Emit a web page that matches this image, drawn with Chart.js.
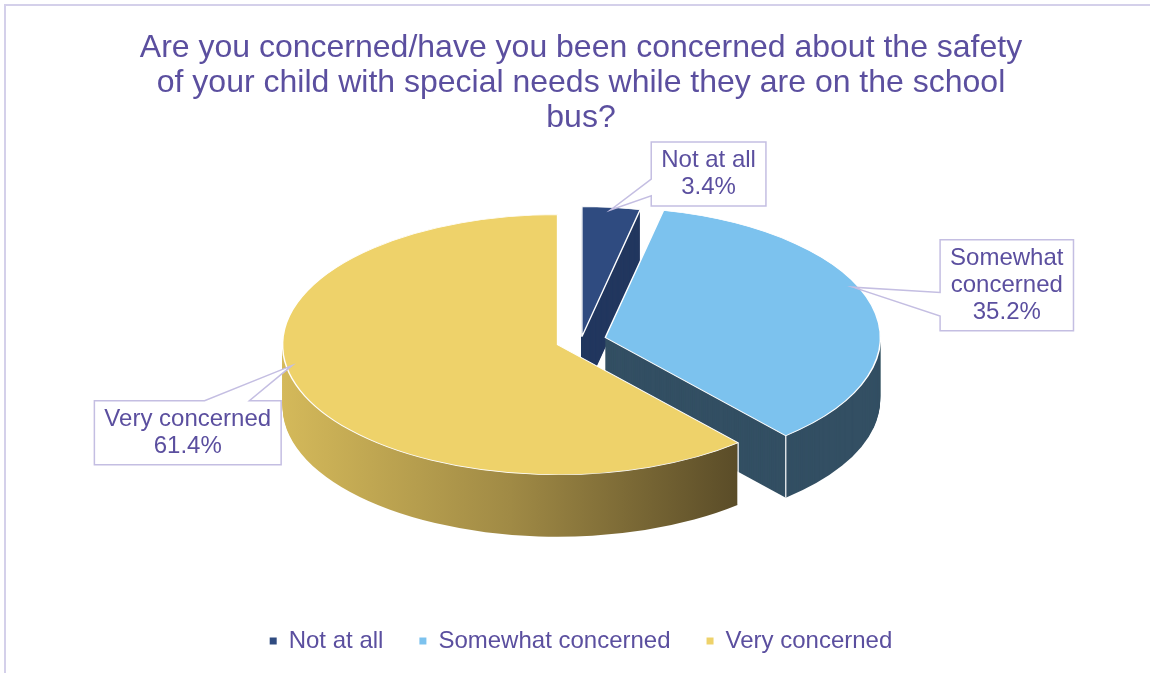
<!DOCTYPE html>
<html>
<head>
    <meta charset="UTF-8">
    <title>School bus safety</title>
    <script src="https://cdn.jsdelivr.net/npm/chart.js@4.4.0/dist/chart.umd.min.js"></script>
    <style>
        body { margin: 0; background: #fff; }
        #wrap { position: relative; width: 1150px; height: 673px; }
    </style>
</head>
<body>
    <div id="wrap"><canvas id="pie-chart"></canvas></div>
<script>
    // data
    var categories = ['Not at all', 'Somewhat concerned', 'Very concerned'];
    var shares = [3.4, 35.2, 61.4];
    var shareLabels = ['3.4%', '35.2%', '61.4%'];
    var calloutLines = [['Not at all'], ['Somewhat', 'concerned'], ['Very concerned']];

    var TEXT = '#5b4f9f';
    var FONT = '"Liberation Sans", Arial, sans-serif';
    var topColors = ['#2f4b80', '#7cc2ee', '#eed26a'];
    var sideColors = ['#22375f', '#334f63', null];
    var explode = [8, 25, 25];
    var TILT = 0.473;
    var DEPTH = 62;
    // where along each slice's rim the callout points, and where its box sits
    var anchorAt = [0.5, 0.43, 0.55];
    var calloutShift = [[98, -36], [154, -2], [-104, 67]];

    function sliceCenter(a, i) {
        var mid = (a.startAngle + a.endAngle) / 2;
        return { x: a.x + Math.cos(mid) * explode[i], y: a.y + Math.sin(mid) * explode[i] };
    }

    var pie3d = {
        id: 'pie3d',
        beforeDraw: function (chart) {
            var ctx = chart.ctx;
            ctx.save();
            ctx.strokeStyle = '#d4d0ea';
            ctx.lineWidth = 2;
            ctx.strokeRect(5, 5, 1300, 800);
            ctx.restore();
        },
        beforeDatasetsDraw: function (chart) {
            var ctx = chart.ctx;
            var arcs = chart.getDatasetMeta(0).data;
            var cy = arcs[0].y;
            var topY = cy - DEPTH / 2;
            function toScreen(u, v) { return { x: u, y: topY + (v - cy) * TILT }; }
            function tilt() {
                ctx.translate(0, topY);
                ctx.scale(1, TILT);
                ctx.translate(0, -cy);
            }

            // side walls, stacked from the bottom up
            ctx.save();
            tilt();
            var fills = arcs.map(function (a, i) {
                if (sideColors[i]) return sideColors[i];
                var c = sliceCenter(a, i);
                var g = ctx.createLinearGradient(c.x - a.outerRadius, 0, c.x + a.outerRadius * Math.cos(a.startAngle), 0);
                g.addColorStop(0, '#d4b95a');
                g.addColorStop(0.5, '#a08a45');
                g.addColorStop(1, '#5a4c28');
                return g;
            });
            for (var d = DEPTH; d >= 1; d--) {
                arcs.forEach(function (a, i) {
                    var c = sliceCenter(a, i);
                    var dy = d / TILT;
                    ctx.beginPath();
                    ctx.moveTo(c.x, c.y + dy);
                    ctx.arc(c.x, c.y + dy, a.outerRadius, a.startAngle, a.endAngle);
                    ctx.closePath();
                    ctx.fillStyle = fills[i];
                    ctx.fill();
                });
            }
            ctx.restore();

            // white edges where a wall corner faces us
            ctx.save();
            ctx.strokeStyle = '#ffffff';
            ctx.lineWidth = 1.2;
            arcs.forEach(function (a, i) {
                var c = sliceCenter(a, i);
                [a.startAngle, a.endAngle].forEach(function (ang) {
                    if (Math.sin(ang) > 0.05) {
                        var p = toScreen(c.x + a.outerRadius * Math.cos(ang), c.y + a.outerRadius * Math.sin(ang));
                        ctx.beginPath();
                        ctx.moveTo(p.x, p.y);
                        ctx.lineTo(p.x, p.y + DEPTH);
                        ctx.stroke();
                    }
                });
            });
            ctx.restore();

            // top faces, drawn by the arc elements themselves
            ctx.save();
            tilt();
            arcs.forEach(function (a, i) {
                var c = sliceCenter(a, i);
                ctx.save();
                ctx.translate(c.x - a.x, c.y - a.y);
                a.draw(ctx);
                ctx.restore();
            });
            ctx.restore();
            return false;
        },
        afterDraw: function (chart) {
            var ctx = chart.ctx;
            var arcs = chart.getDatasetMeta(0).data;
            var cy = arcs[0].y;
            var topY = cy - DEPTH / 2;
            ctx.save();
            ctx.font = '24px ' + FONT;
            arcs.forEach(function (a, i) {
                var c = sliceCenter(a, i);
                var ang = a.startAngle + (a.endAngle - a.startAngle) * anchorAt[i];
                var r = a.outerRadius * 0.98;
                var ax = c.x + Math.cos(ang) * r;
                var ay = topY + (c.y + Math.sin(ang) * r - cy) * TILT;
                var lines = calloutLines[i].concat([shareLabels[i]]);
                var w = 0;
                lines.forEach(function (t) { w = Math.max(w, ctx.measureText(t).width); });
                w += 20;
                var h = lines.length * 27 + 10;
                var bx = ax + calloutShift[i][0] - w / 2;
                var by = ay + calloutShift[i][1] - h / 2;
                var x1 = bx + w, y1 = by + h;

                ctx.beginPath();
                if (ax < bx) {
                    ctx.moveTo(bx, by);
                    ctx.lineTo(x1, by);
                    ctx.lineTo(x1, y1);
                    ctx.lineTo(bx, y1);
                    ctx.lineTo(bx, by + h * 0.84);
                    ctx.lineTo(ax, ay);
                    ctx.lineTo(bx, by + h * 0.58);
                } else {
                    ctx.moveTo(bx, by);
                    ctx.lineTo(bx + w * 0.59, by);
                    ctx.lineTo(ax, ay);
                    ctx.lineTo(bx + w * 0.83, by);
                    ctx.lineTo(x1, by);
                    ctx.lineTo(x1, y1);
                    ctx.lineTo(bx, y1);
                }
                ctx.closePath();
                ctx.fillStyle = '#ffffff';
                ctx.fill();
                ctx.strokeStyle = '#c4bee2';
                ctx.lineWidth = 1.5;
                ctx.stroke();

                ctx.fillStyle = TEXT;
                ctx.textAlign = 'center';
                ctx.textBaseline = 'middle';
                lines.forEach(function (t, k) {
                    ctx.fillText(t, bx + w / 2, by + 5 + 13.5 + k * 27);
                });
            });
            ctx.restore();
        }
    };

    var chart = new Chart(document.getElementById('pie-chart'), {
        type: 'pie',
        data: {
            labels: categories,
            datasets: [{
                data: shares,
                backgroundColor: topColors,
                borderColor: '#ffffff',
                borderWidth: 1.5,
                radius: 275
            }]
        },
        options: {
            responsive: true,
            maintainAspectRatio: false,
            animation: false,
            events: [],
            layout: { padding: { left: 12, bottom: 10 } },
            plugins: {
                title: {
                    display: true,
                    text: ['Are you concerned/have you been concerned about the safety',
                        'of your child with special needs while they are on the school',
                        'bus?'],
                    color: TEXT,
                    font: { family: FONT, size: 32, weight: 'normal', lineHeight: 1.094 },
                    padding: { top: 31, bottom: 14 }
                },
                legend: {
                    position: 'bottom',
                    labels: {
                        color: TEXT,
                        font: { family: FONT, size: 24 },
                        boxWidth: 7,
                        boxHeight: 7,
                        padding: 36,
                        generateLabels: function (chart) {
                            var items = Chart.PieController.overrides.plugins.legend.labels.generateLabels(chart);
                            items.forEach(function (it) { it.lineWidth = 0; it.fontColor = TEXT; });
                            return items;
                        }
                    }
                },
                tooltip: { enabled: false }
            }
        },
        plugins: [pie3d]
    });
</script>
</body>
</html>
